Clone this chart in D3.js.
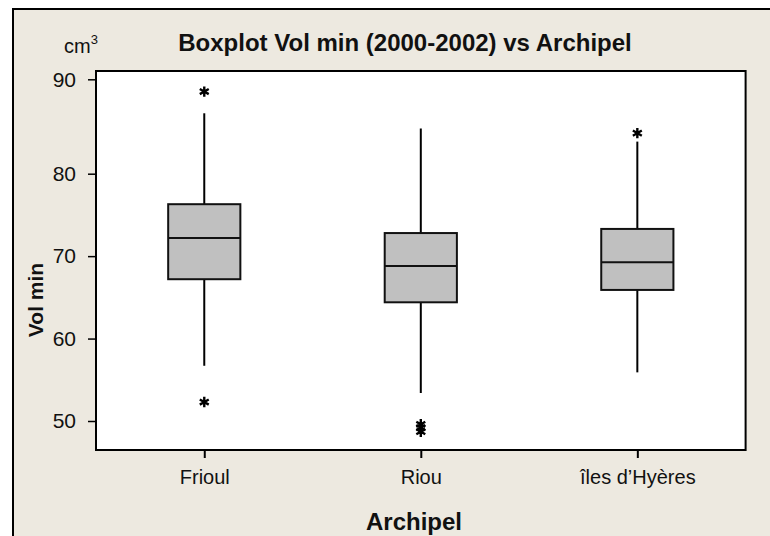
<!DOCTYPE html>
<html>
<head>
<meta charset="utf-8">
<script src="https://cdn.jsdelivr.net/npm/d3@7"></script>
<style>
  body { margin: 0; background: #fff; }
  text { font-family: "Liberation Sans", Arial, sans-serif; }
</style>
</head>
<body>
<div class="chart"></div>
<script>
// boxplot stats
const archipels = ["Frioul", "Riou", "îles d’Hyères"];
const q1       = [67.2, 64.4, 65.9];
const medians  = [72.2, 68.8, 69.25];
const q3       = [76.3, 72.8, 73.3];
const whiskLow = [56.7, 53.4, 55.9];
const whiskHi  = [86.4, 84.8, 83.4];
const outliers = [[88.7, 52.3], [49.6, 49.2, 48.7], [84.3]];
const yTicks = [50, 60, 70, 80, 90];

const W = 770, H = 536;
const margin = ({top: 71, right: 24.4, bottom: 86, left: 96});
const width = W - margin.left - margin.right;
const height = H - margin.top - margin.bottom;

const svg = d3.select('.chart').append('svg')
    .attr("width", W)
    .attr("height", H);

// beige background + frame
svg.append("rect")
    .attr("x", 0).attr("y", 0)
    .attr("width", W).attr("height", H)
    .attr("fill", "#fff");
svg.append("rect")
    .attr("x", 13).attr("y", 9)
    .attr("width", W + 20).attr("height", H + 20)
    .attr("fill", "#EDE9E0")
    .attr("stroke", "#000")
    .attr("stroke-width", 2);

const g = svg.append("g")
    .attr("transform", "translate(" + margin.left + "," + margin.top + ")");

g.append("rect")
    .attr("width", width)
    .attr("height", height)
    .attr("fill", "#fff");

const xScale = d3.scalePoint()
    .domain(archipels)
    .range([0, width])
    .padding(0.5);

// the source image spaces 80-90 a bit wider than the other ticks
let yScale = d3.scaleLinear()
    .domain([50, 80, 90])
    .range([421 - margin.top, 173.7 - margin.top, 79.3 - margin.top]);

const boxW = xScale.step() / 3;

const xAxis = d3.axisBottom(xScale)
    .tickSize(8)
    .tickPadding(12);

const yAxis = d3.axisLeft(yScale)
    .tickValues(yTicks)
    .tickSize(8)
    .tickPadding(12);

g.append("g")
    .attr("class", "axis x-axis")
    .attr("transform", `translate(0,${height})`)
    .call(xAxis)
    .call(g => g.select(".domain").remove())
    .call(g => g.selectAll(".tick line").attr("stroke", "#000").attr("stroke-width", 2))
    .call(g => g.selectAll(".tick text")
        .attr("font-size", 20)
        .attr("font-family", "Liberation Sans, Arial, sans-serif")
        .attr("fill", "#111"));

g.append("g")
    .attr("class", "axis y-axis")
    .call(yAxis)
    .call(g => g.select(".domain").remove())
    .call(g => g.selectAll(".tick line").attr("stroke", "#000").attr("stroke-width", 1.5))
    .call(g => g.selectAll(".tick text")
        .attr("font-size", 21)
        .attr("font-family", "Liberation Sans, Arial, sans-serif")
        .attr("fill", "#111"));

// boxes
const boxes = g.append("g")
    .selectAll("g")
    .data(archipels)
    .enter()
    .append("g")
    .attr("transform", d => `translate(${xScale(d)},0)`);

boxes.append("line")
    .attr("y1", (d, i) => yScale(whiskLow[i]))
    .attr("y2", (d, i) => yScale(whiskHi[i]))
    .attr("stroke", "#000")
    .attr("stroke-width", 2);

boxes.append("rect")
    .attr("x", -boxW / 2)
    .attr("width", boxW)
    .attr("y", (d, i) => yScale(q3[i]))
    .attr("height", (d, i) => yScale(q1[i]) - yScale(q3[i]))
    .attr("fill", "#C0C0C0")
    .attr("stroke", "#111")
    .attr("stroke-width", 2);

boxes.append("line")
    .attr("x1", -boxW / 2)
    .attr("x2", boxW / 2)
    .attr("y1", (d, i) => yScale(medians[i]))
    .attr("y2", (d, i) => yScale(medians[i]))
    .attr("stroke", "#111")
    .attr("stroke-width", 2);

const star = d3.symbol(d3.symbolAsterisk, 75);
boxes.selectAll("path.out")
    .data((d, i) => outliers[i])
    .enter()
    .append("path")
    .attr("class", "out")
    .attr("d", star)
    .attr("transform", d => `translate(0,${yScale(d)})`)
    .attr("fill", "none")
    .attr("stroke", "#000")
    .attr("stroke-width", 2.4);

// plot frame on top
g.append("rect")
    .attr("width", width)
    .attr("height", height)
    .attr("fill", "none")
    .attr("stroke", "#000")
    .attr("stroke-width", 2);

// titles
svg.append("text")
    .attr("x", 405)
    .attr("y", 51)
    .attr("text-anchor", "middle")
    .attr("font-size", "24px")
    .attr("font-weight", "bold")
    .attr("fill", "#111")
    .text("Boxplot Vol min (2000-2002) vs Archipel");

svg.append("text")
    .attr("x", 414)
    .attr("y", 530)
    .attr("text-anchor", "middle")
    .attr("font-size", "24px")
    .attr("font-weight", "bold")
    .attr("fill", "#111")
    .text("Archipel");

svg.append("text")
    .attr("transform", "translate(43,300) rotate(-90)")
    .attr("text-anchor", "middle")
    .attr("font-size", "21px")
    .attr("font-weight", "bold")
    .attr("fill", "#111")
    .text("Vol min");

const unit = svg.append("text")
    .attr("x", 64)
    .attr("y", 53)
    .attr("font-size", "20px")
    .attr("fill", "#111");
unit.append("tspan").text("cm");
unit.append("tspan")
    .attr("font-size", "13px")
    .attr("dy", "-9")
    .text("3");
</script>
</body>
</html>
